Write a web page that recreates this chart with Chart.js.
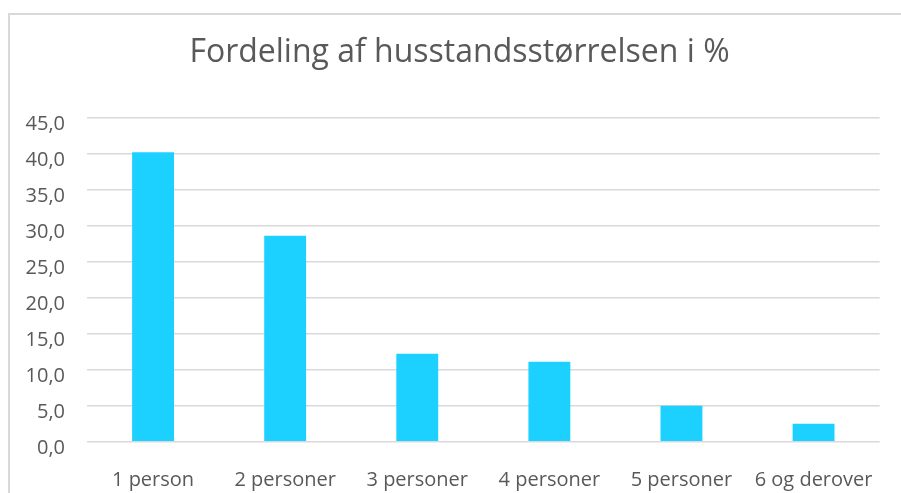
<!DOCTYPE html>
<html>
<head>
<meta charset="utf-8">
<script src="https://cdn.jsdelivr.net/npm/chart.js@4.4.1/dist/chart.umd.min.js"></script>
<style>
  html, body { margin: 0; padding: 0; background: #ffffff; overflow: hidden; width: 901px; height: 493px; }
  #frame { position: absolute; left: 8px; top: 13px; width: 893px; height: 480px; border-left: 2px solid #d9d9d9; border-top: 2px solid #d9d9d9; box-sizing: border-box; }
  #wrap { position: absolute; left: 0; top: 0; width: 901px; height: 493px; }
</style>
</head>
<body>
<div id="frame"></div>
<div id="wrap"><canvas id="c" width="901" height="493"></canvas></div>
<script>
const chartTitle = 'Fordeling af husstandsstørrelsen i %';
const categories = ['1 person', '2 personer', '3 personer', '4 personer', '5 personer', '6 og derover'];
const values = [40.2, 28.6, 12.2, 11.1, 5.0, 2.5];
const yMin = 0, yMax = 45, yStep = 5;

const textColor = '#595959';
const fontFamily = "'Open Sans', 'Noto Sans', sans-serif";

new Chart(document.getElementById('c'), {
  type: 'bar',
  data: {
    labels: categories,
    datasets: [{
      data: values,
      backgroundColor: '#1CD0FF',
      borderWidth: 0,
      categoryPercentage: 1.0,
      barPercentage: 0.317
    }]
  },
  options: {
    responsive: false,
    animation: false,
    devicePixelRatio: 1,
    layout: { padding: { left: 18, right: 0, top: 0, bottom: 0 } },
    plugins: {
      legend: { display: false },
      tooltip: { enabled: false },
      title: {
        display: true,
        text: chartTitle,
        color: textColor,
        font: { family: fontFamily, size: 32, weight: 'normal', lineHeight: 1.2 },
        padding: { top: 33.5, bottom: 45.8 }
      }
    },
    scales: {
      x: {
        grid: { display: false, drawTicks: false },
        border: { display: false },
        ticks: {
          color: textColor,
          font: { family: fontFamily, size: 20 },
          padding: 27,
          maxRotation: 0,
          autoSkip: false
        },
        afterFit(scale) { scale.height = 51.3; }
      },
      y: {
        min: yMin,
        max: yMax,
        grid: { color: '#d9d9d9', lineWidth: 1.5, drawTicks: false },
        border: { display: false },
        ticks: {
          stepSize: yStep,
          color: textColor,
          font: { family: fontFamily, size: 20 },
          padding: 22,
          labelOffset: 7,
          callback: (v) => Number(v).toFixed(1).replace('.', ',')
        },
        afterFit(scale) { scale.width = 69; }
      },
      spacer: {
        type: 'linear',
        position: 'right',
        display: true,
        grid: { display: false, drawTicks: false },
        border: { display: false },
        ticks: { display: false },
        afterFit(scale) { scale.width = 18.5; }
      }
    }
  }
});
</script>
</body>
</html>
